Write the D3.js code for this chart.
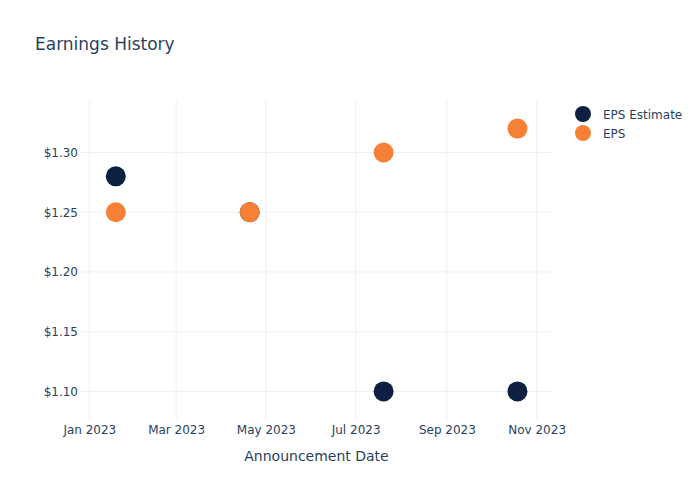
<!DOCTYPE html>
<html>
<head>
<meta charset="utf-8">
<script src="https://cdn.jsdelivr.net/npm/d3@7"></script>
<style>
  html, body { margin: 0; padding: 0; background: #fff; }
  svg text { font-family: "DejaVu Sans", Verdana, sans-serif; fill: #2a3f5f; }
</style>
</head>
<body>
<svg id="chart" width="700" height="500"></svg>
<script>
const dates = ["2023-01-19", "2023-04-20", "2023-07-20", "2023-10-19"];
const epsEstimate = [1.28, 1.25, 1.10, 1.10];
const eps = [1.25, 1.25, 1.30, 1.32];
const seriesNames = ["EPS Estimate", "EPS"];
const seriesColors = ["#0c2142", "#f68136"];
const xTickDates = ["2023-01-01", "2023-03-01", "2023-05-01", "2023-07-01", "2023-09-01", "2023-11-01"];
const yTicks = [1.10, 1.15, 1.20, 1.25, 1.30];

const parse = d3.utcParse("%Y-%m-%d");
const svg = d3.select("#chart");
const plot = { left: 80, right: 553, top: 100, bottom: 420 };

const x = d3.scaleUtc()
  .domain([new Date(Date.UTC(2022, 11, 25, 16)), new Date(Date.UTC(2023, 10, 12, 3))])
  .range([plot.left, plot.right]);
const y = d3.scaleLinear()
  .domain([1.0761, 1.3439])
  .range([plot.bottom, plot.top]);

// gridlines
const gx = svg.append("g");
gx.selectAll("line").data(xTickDates.map(parse)).join("line")
  .attr("x1", d => x(d)).attr("x2", d => x(d))
  .attr("y1", plot.top).attr("y2", plot.bottom)
  .attr("stroke", "#ebf0f8").attr("stroke-width", 1);
const gy = svg.append("g");
gy.selectAll("line").data(yTicks).join("line")
  .attr("x1", plot.left).attr("x2", plot.right)
  .attr("y1", d => y(d)).attr("y2", d => y(d))
  .attr("stroke", "#ebf0f8").attr("stroke-width", 1);

// axes
const xAxis = d3.axisBottom(x).tickValues(xTickDates.map(parse))
  .tickFormat(d3.utcFormat("%b %Y")).tickSize(0).tickPadding(5);
const xg = svg.append("g").attr("transform", `translate(0,${plot.bottom})`).call(xAxis);
xg.select(".domain").remove();
xg.selectAll("text").attr("font-size", 12).attr("fill", "#2a3f5f")
  .style("font-family", '"DejaVu Sans", Verdana, sans-serif');

const yAxis = d3.axisLeft(y).tickValues(yTicks)
  .tickFormat(d => "$" + d3.format(".2f")(d)).tickSize(0).tickPadding(2);
const yg = svg.append("g").attr("transform", `translate(${plot.left},0)`).call(yAxis);
yg.select(".domain").remove();
yg.selectAll("text").attr("font-size", 12).attr("fill", "#2a3f5f")
  .style("font-family", '"DejaVu Sans", Verdana, sans-serif');

// axis title
svg.append("text").attr("x", (plot.left + plot.right) / 2).attr("y", 461)
  .attr("text-anchor", "middle").attr("font-size", 14).text("Announcement Date");

// title
svg.append("text").attr("x", 35).attr("y", 50).attr("font-size", 17).text("Earnings History");

// points
const series = [epsEstimate, eps];
series.forEach((vals, i) => {
  svg.append("g").selectAll("circle")
    .data(vals.map((v, j) => ({ d: parse(dates[j]), v })))
    .join("circle")
    .attr("cx", p => x(p.d)).attr("cy", p => y(p.v))
    .attr("r", 10).attr("fill", seriesColors[i]);
});

// legend
const lg = svg.append("g");
seriesNames.forEach((name, i) => {
  const ly = 114 + i * 19;
  lg.append("circle").attr("cx", 583).attr("cy", ly).attr("r", 8).attr("fill", seriesColors[i]);
  lg.append("text").attr("x", 603).attr("y", ly + 4.5).attr("font-size", 12).text(name);
});
</script>
</body>
</html>
